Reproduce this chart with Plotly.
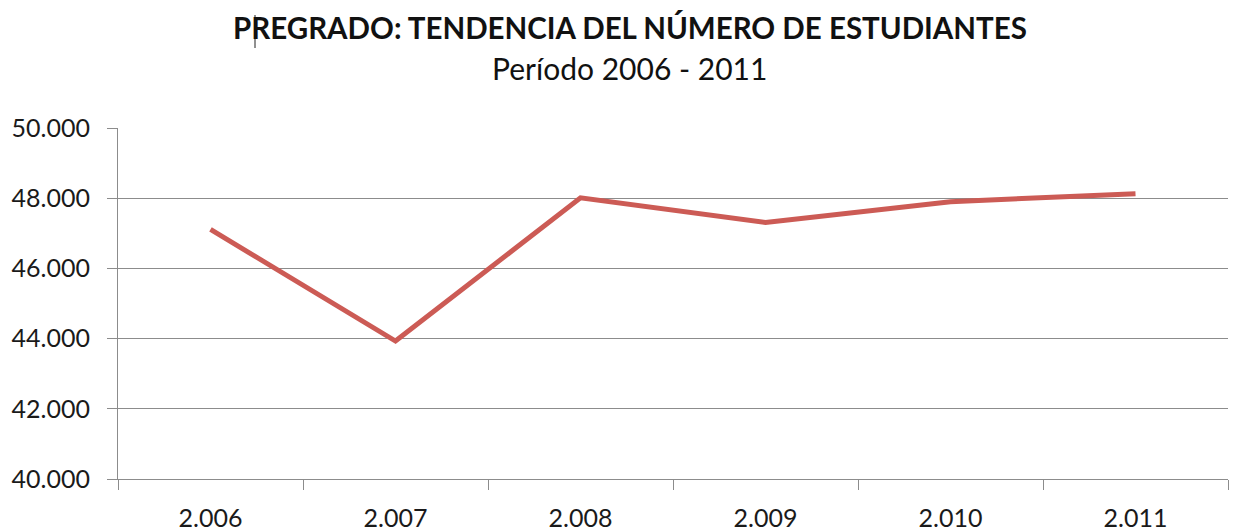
import plotly.graph_objects as go

years = ["2006", "2007", "2008", "2009", "2010", "2011"]
year_labels = ["2.006", "2.007", "2.008", "2.009", "2.010", "2.011"]
students = [47110, 43930, 48010, 47310, 47900, 48130]

title_text = "PREGRADO: TENDENCIA DEL NÚMERO DE ESTUDIANTES"
subtitle_text = "Período 2006 - 2011"

W, H = 1233, 531
L, R, T, B = 118, 5, 128, 52
pw, ph = W - L - R, H - T - B

def px_x(x):
    return (x - L) / pw

def px_y(y):
    return (H - B - y) / ph

fig = go.Figure()
fig.add_trace(go.Scatter(
    x=years, y=students, mode="lines",
    line=dict(color="#CC5B55", width=5),
    hoverinfo="x+y", showlegend=False,
))

FONT = "Lato, Carlito, Calibri, sans-serif"
fig.update_layout(
    width=W, height=H,
    margin=dict(l=L, r=R, t=T, b=B),
    paper_bgcolor="white", plot_bgcolor="white",
    separators=",.",
    font=dict(family=FONT, color="#1a1a1a"),
    xaxis=dict(
        type="category", tickmode="array", tickvals=years, ticktext=year_labels,
        tickson="boundaries", ticks="outside", ticklen=10, tickcolor="#8c8c8c",
        showline=True, linecolor="#8c8c8c", linewidth=1,
        showgrid=False, tickfont=dict(size=25, family=FONT, color="#1a1a1a"),
        ticklabelstandoff=17, automargin=False,
        range=[-0.5, 5.5], fixedrange=True,
    ),
    yaxis=dict(
        range=[40000, 50000], tickmode="linear", tick0=40000, dtick=2000,
        tickformat=",d", ticks="outside", ticklen=10, tickcolor="#8c8c8c",
        showline=True, linecolor="#8c8c8c", linewidth=1,
        showgrid=True, gridcolor="#8c8c8c", gridwidth=1, zeroline=False,
        tickfont=dict(size=25, family=FONT, color="#1a1a1a"),
        ticklabelstandoff=12, automargin=False,
        fixedrange=True,
    ),
    annotations=[
        dict(text="<b>" + title_text + "</b>", xref="paper", yref="paper",
             x=px_x(630), y=px_y(27), xanchor="center", yanchor="middle",
             showarrow=False, font=dict(size=29.5, family=FONT, color="#111")),
        dict(text=subtitle_text, xref="paper", yref="paper",
             x=px_x(629), y=px_y(68), xanchor="center", yanchor="middle",
             showarrow=False, font=dict(size=30, family=FONT, color="#111")),
    ],
    shapes=[
        dict(type="line", xref="paper", yref="paper",
             x0=px_x(255), x1=px_x(255), y0=px_y(15), y1=px_y(48),
             line=dict(color="#222", width=1)),
    ],
)

fig.write_html("out.html", config={"displayModeBar": False},
               post_script="document.body.style.margin='0';document.body.style.padding='0';")
